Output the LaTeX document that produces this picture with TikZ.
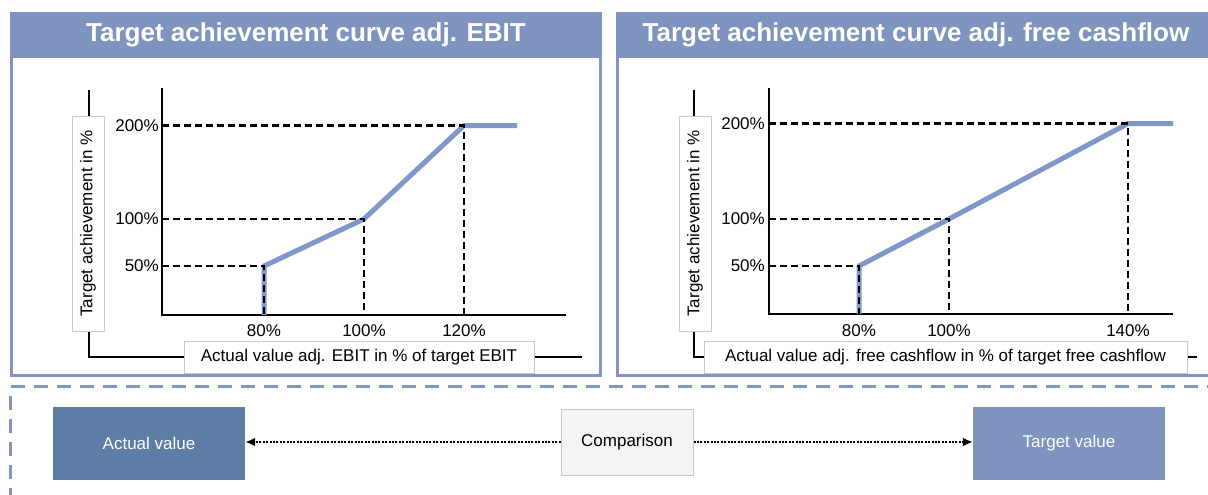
\documentclass[tikz,border=0pt]{standalone}
\usepackage{fontspec}
\setmainfont{Liberation Sans}
\usetikzlibrary{arrows.meta,calc}
\definecolor{hdr}{HTML}{7F93BF}
\definecolor{pborder}{HTML}{8294C0}
\definecolor{curve}{HTML}{8097C9}
\definecolor{actfill}{HTML}{5E7DA5}
\definecolor{cmpfill}{HTML}{F3F4F6}
\definecolor{lblborder}{HTML}{C8C8C8}
\tikzset{
  panel/.style={draw=pborder,line width=3pt,fill=white},
  header/.style={fill=hdr},
  title/.style={text=white,font=\fontsize{26}{30}\selectfont\bfseries},
  tick/.style={font=\fontsize{17}{20}\selectfont,inner sep=0pt},
  axisline/.style={line width=1.6pt,black},
  guide/.style={line width=2.4pt,black,dash pattern=on 7pt off 4pt},
  curveline/.style={line width=5pt,curve,line join=round},
  lblbox/.style={draw=lblborder,line width=1pt,fill=white,font=\fontsize{17}{20}\selectfont,inner sep=0pt},
  bigbox/.style={minimum width=192pt,minimum height=73pt,inner sep=0pt,text=white,font=\fontsize{17}{20}\selectfont},
  cmpbox/.style={draw=lblborder,line width=1pt,fill=cmpfill,minimum width=132pt,minimum height=66pt,inner sep=0pt,font=\fontsize{17}{20}\selectfont},
  dotarrow/.style={line width=2.4pt,black,dash pattern=on 2pt off 1.4pt,-{Latex[length=10pt,width=9pt]}},
  divider/.style={line width=3.3pt,pborder,dash pattern=on 14pt off 9pt}
}
\begin{document}
\begin{tikzpicture}[x=1pt,y=-1pt]
\useasboundingbox (0,0) rectangle (1208,495);
% ---------- panels
\draw[panel] (11.5,13.5) rectangle (600.5,375.7);
\fill[header] (10,12) rectangle (602,58);
\draw[panel] (617.5,13.5) rectangle (1215,375.7);
\fill[header] (616,12) rectangle (1210,58);
\node[title] (t1) at (306,35) {Target achievement curve adj. EBIT};
\node[title] (t2) at (916,35) {Target achievement curve adj. free cashflow};

% ---------- left chart
\draw[line width=1.6pt] (89,90) -- (89,357) -- (582,357);
\node[lblbox,rotate=90,minimum width=215pt,minimum height=32pt] (yl1) at (88,223.5) {Target achievement in \%};
\node[lblbox,minimum width=350pt,minimum height=32pt] (xl1) at (359,357) {Actual value adj. EBIT in \% of target EBIT};
\draw[axisline] (162,88) -- (162,315) -- (566,315);
\draw[curveline] (264,315) -- (264,266) -- (364,219) -- (464,125.5) -- (517,125.5);
\draw[guide] (162,125.5) -- (464,125.5) -- (464,315);
\draw[guide] (162,219) -- (364,219) -- (364,315);
\draw[guide] (162,266) -- (264,266) -- (264,315);
\node[tick,anchor=east] (a200) at (159,125.5) {200\%};
\node[tick,anchor=east] (a100) at (159,219) {100\%};
\node[tick,anchor=east] (a50) at (159,266) {50\%};
\node[tick] (a80x) at (264,331) {80\%};
\node[tick] (a100x) at (364,331) {100\%};
\node[tick] (a120x) at (464,331) {120\%};

% ---------- right chart
\draw[line width=1.6pt] (694,90) -- (694,357) -- (1197,357);
\node[lblbox,rotate=90,minimum width=215pt,minimum height=32pt] (yl2) at (695,223.5) {Target achievement in \%};
\node[lblbox,minimum width=483pt,minimum height=32pt] (xl2) at (945.5,357) {Actual value adj. free cashflow in \% of target free cashflow};
\draw[axisline] (769,88) -- (769,314) -- (1173,314);
\draw[curveline] (859,314) -- (859,266) -- (949,219) -- (1128,123.5) -- (1173,123.5);
\draw[guide] (769,123.5) -- (1128,123.5) -- (1128,314);
\draw[guide] (769,219) -- (949,219) -- (949,314);
\draw[guide] (769,266) -- (859,266) -- (859,314);
\node[tick,anchor=east] (b200) at (765,123.5) {200\%};
\node[tick,anchor=east] (b100) at (765,219) {100\%};
\node[tick,anchor=east] (b50) at (765,266) {50\%};
\node[tick] (b80x) at (859,331) {80\%};
\node[tick] (b100x) at (949,331) {100\%};
\node[tick] (b140x) at (1128,331) {140\%};

% ---------- divider
\draw[divider] (11,386.7) -- (1208,386.7);
\draw[divider] (10.7,395.7) -- (10.7,495);

% ---------- comparison row
\node[bigbox,fill=actfill] (actual) at (149,443.5) {Actual value};
\node[bigbox,fill=hdr] (target) at (1069,443.5) {Target value};
\node[cmpbox] (cmp) at (627,442) {Comparison};
\draw[dotarrow] (cmp.west) -- (cmp.west -| actual.east);
\draw[dotarrow] (cmp.east) -- (cmp.east -| target.west);
\end{tikzpicture}
\end{document}
